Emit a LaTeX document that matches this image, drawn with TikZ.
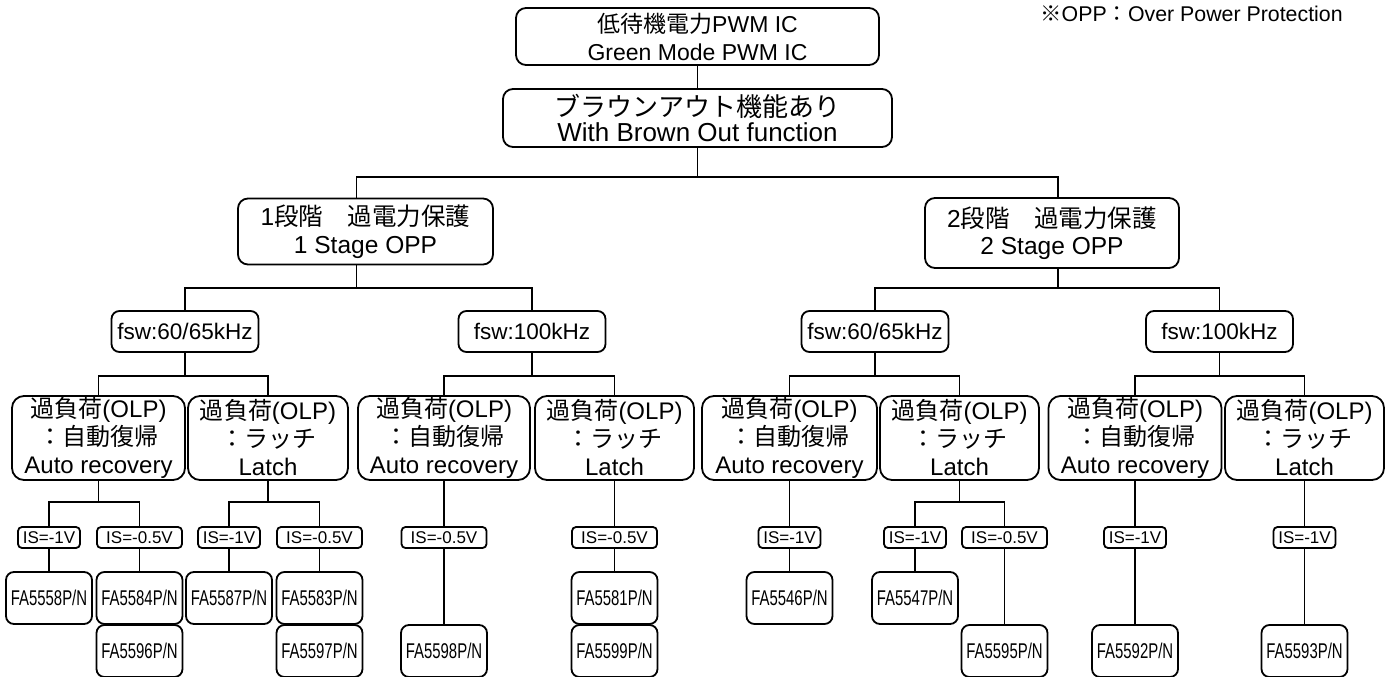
\documentclass[tikz,border=0pt]{standalone}
\usepackage{fontspec}
\setmainfont{Liberation Sans}
\newfontfamily\jp{Noto Sans CJK JP}
\newfontfamily\fanar[FakeStretch=0.7]{Liberation Sans}
\newdimen\pxu \pxu=0.75pt
\begin{document}
\begin{tikzpicture}[x=0.75pt,y=-0.75pt,line width=1.35pt,
  box/.style={draw,rounded corners=7.5pt,inner sep=0pt,align=center},
  mainbox/.style={box},
  stagebox/.style={box,minimum height=66\pxu,font={\fontsize{18.4pt}{20.6pt}\selectfont}},
  fswbox/.style={box,rounded corners=6pt,minimum width=147\pxu,minimum height=41\pxu,font={\fontsize{16.9pt}{20pt}\selectfont}},
  olpbox/.style={box,rounded corners=9pt,minimum height=84\pxu,font={\fontsize{18pt}{21pt}\selectfont}},
  isbox/.style={box,rounded corners=3pt,minimum height=21\pxu,font={\fontsize{12.75pt}{14pt}\selectfont}},
  isone/.style={isbox,minimum width=62\pxu},
  ishalf/.style={isbox,minimum width=85\pxu},
  fabox/.style={box,rounded corners=6pt,minimum width=86\pxu,minimum height=52\pxu,font={\fanar\fontsize{16pt}{18pt}\selectfont}}
]
\useasboundingbox (0,0) rectangle (1394,677);

% top levels
\node[mainbox,minimum width=363\pxu,minimum height=57\pxu,font={\fontsize{17.25pt}{21pt}\selectfont}] (top) at (697.5,36.5)
  {{\jp 低待機電力}PWM IC\\Green Mode PWM IC};
\node[mainbox,minimum width=389\pxu,minimum height=58\pxu,font={\fontsize{19.5pt}{18.75pt}\selectfont}] (bo) at (697.5,118)
  {{\jp ブラウンアウト機能あり}\\With Brown Out function};
\node[stagebox,minimum width=255\pxu] (s1) at (365.5,231.5) {1{\jp 段階　過電力保護}\\1 Stage OPP};
\node[stagebox,minimum width=254\pxu,minimum height=70\pxu] (s2) at (1052,233) {2{\jp 段階　過電力保護}\\2 Stage OPP};

\node[anchor=west,font={\fontsize{16pt}{18pt}\selectfont}] (note) at (1035,14)
  {{\jp ※}OPP{\jp ：}Over Power Protection};

% fsw
\node[fswbox] (f1) at (185,331.5) {fsw:60/65kHz};
\node[fswbox] (f2) at (532,331.5) {fsw:100kHz};
\node[fswbox] (f3) at (875,331.5) {fsw:60/65kHz};
\node[fswbox] (f4) at (1219.5,331.5) {fsw:100kHz};

% OLP
\newcommand\autotxt{{\jp 過負荷}(OLP)\\{\jp ：自動復帰}\\Auto recovery}
\newcommand\latchtxt{{\jp 過負荷}(OLP)\\{\jp ：ラッチ}\\Latch}
\node[olpbox,minimum width=173\pxu] (o1) at (98.5,438) {\autotxt};
\node[olpbox,minimum width=160\pxu] (o2) at (268,438) {\latchtxt};
\node[olpbox,minimum width=172\pxu] (o3) at (444,438) {\autotxt};
\node[olpbox,minimum width=159\pxu] (o4) at (614.5,438) {\latchtxt};
\node[olpbox,minimum width=175\pxu] (o5) at (789.5,438) {\autotxt};
\node[olpbox,minimum width=159\pxu] (o6) at (959.5,438) {\latchtxt};
\node[olpbox,minimum width=173\pxu] (o7) at (1135,438) {\autotxt};
\node[olpbox,minimum width=159\pxu] (o8) at (1304.5,438) {\latchtxt};

% IS
\node[isone]  (i1)  at (49,537.5) {IS=-1V};
\node[ishalf] (i2)  at (139.5,537.5) {IS=-0.5V};
\node[isone]  (i3)  at (229,537.5) {IS=-1V};
\node[ishalf] (i4)  at (319.5,537.5) {IS=-0.5V};
\node[ishalf] (i5)  at (444,537.5) {IS=-0.5V};
\node[ishalf] (i6)  at (614.5,537.5) {IS=-0.5V};
\node[isone]  (i7)  at (789.5,537.5) {IS=-1V};
\node[isone]  (i8)  at (915,537.5) {IS=-1V};
\node[ishalf] (i9)  at (1004.5,537.5) {IS=-0.5V};
\node[isone]  (i10) at (1135,537.5) {IS=-1V};
\node[isone]  (i11) at (1304.5,537.5) {IS=-1V};

% FA row 1
\node[fabox] (a1) at (49,598) {FA5558P/N};
\node[fabox] (a2) at (139.5,598) {FA5584P/N};
\node[fabox] (a3) at (229,598) {FA5587P/N};
\node[fabox] (a4) at (319.5,598) {FA5583P/N};
\node[fabox] (a5) at (614.5,598) {FA5581P/N};
\node[fabox] (a6) at (789.5,598) {FA5546P/N};
\node[fabox] (a7) at (915,598) {FA5547P/N};
% FA row 2
\node[fabox] (b2) at (139.5,651) {FA5596P/N};
\node[fabox] (b4) at (319.5,651) {FA5597P/N};
\node[fabox] (b5) at (444,651) {FA5598P/N};
\node[fabox] (b6) at (614.5,651) {FA5599P/N};
\node[fabox] (b9) at (1004.5,651) {FA5595P/N};
\node[fabox] (b10) at (1135,651) {FA5592P/N};
\node[fabox] (b11) at (1304.5,651) {FA5593P/N};

% junction levels
\coordinate (j1) at (0,177);
\coordinate (j2) at (0,288);
\coordinate (j3) at (0,376);
\coordinate (j4) at (0,502);
\coordinate (s1t) at ([xshift=-9\pxu]s1.north);
\coordinate (s1b) at ([xshift=-9\pxu]s1.south);
\coordinate (s2t) at ([xshift=6\pxu]s2.north);
\coordinate (s2b) at ([xshift=6\pxu]s2.south);

% connectors
\draw (top.south) -- (bo.north);
\draw (bo.south) -- (bo.south |- j1);
\draw (s1t) |- (s2t |- j1) -- (s2t);

\draw (s1b) -- (s1b |- j2);
\draw (f1.north) |- (f2.north |- j2) -- (f2.north);
\draw (s2b) -- (s2b |- j2);
\draw (f3.north) |- (f4.north |- j2) -- (f4.north);

\draw (f1.south) -- (f1.south |- j3);
\draw (o1.north) |- (o2.north |- j3) -- (o2.north);
\draw (f2.south) -- (f2.south |- j3);
\draw (o3.north) |- (o4.north |- j3) -- (o4.north);
\draw (f3.south) -- (f3.south |- j3);
\draw (o5.north) |- (o6.north |- j3) -- (o6.north);
\draw (f4.south) -- (f4.south |- j3);
\draw (o7.north) |- (o8.north |- j3) -- (o8.north);

\draw (o1.south) -- (o1.south |- j4);
\draw (i1.north) |- (i2.north |- j4) -- (i2.north);
\draw (o2.south) -- (o2.south |- j4);
\draw (i3.north) |- (i4.north |- j4) -- (i4.north);
\draw (o6.south) -- (o6.south |- j4);
\draw (i8.north) |- (i9.north |- j4) -- (i9.north);
\draw (o3.south) -- (i5.north);
\draw (o4.south) -- (i6.north);
\draw (o5.south) -- (i7.north);
\draw (o7.south) -- (i10.north);
\draw (o8.south) -- (i11.north);

\draw (i1.south) -- (a1.north);
\draw (i2.south) -- (a2.north);
\draw (i3.south) -- (a3.north);
\draw (i4.south) -- (a4.north);
\draw (i5.south) -- (b5.north);
\draw (i6.south) -- (a5.north);
\draw (i7.south) -- (a6.north);
\draw (i8.south) -- (a7.north);
\draw (i9.south) -- (b9.north);
\draw (i10.south) -- (b10.north);
\draw (i11.south) -- (b11.north);
\end{tikzpicture}
\end{document}
